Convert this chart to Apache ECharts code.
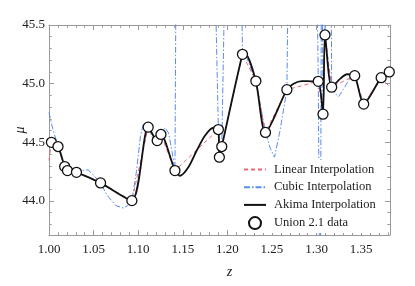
<!DOCTYPE html>
<html>
<head>
<meta charset="utf-8">
<script src="https://cdn.jsdelivr.net/npm/echarts@6/dist/echarts.min.js"></script>
<style>
  html, body { margin: 0; padding: 0; background: #fff; }
  #chart { width: 415px; height: 286px; }
</style>
</head>
<body>
<div id="chart"></div>
<script>
// Union 2.1 data points
const dataZ  = [1.0027, 1.0101, 1.0176, 1.0207, 1.0308, 1.0578, 1.0929, 1.1112, 1.1213, 1.1255, 1.1412, 1.1899, 1.1910, 1.1937, 1.2169, 1.2319, 1.2427, 1.2667, 1.3019, 1.3072, 1.3094, 1.3169, 1.3427, 1.3528, 1.3724, 1.3815];
const dataMu = [44.50, 44.464, 44.293, 44.259, 44.244, 44.154, 44.003, 44.629, 44.515, 44.567, 44.259, 44.609, 44.373, 44.464, 45.25, 45.022, 44.584, 44.949, 45.02, 44.74, 45.415, 44.97, 45.068, 44.826, 45.051, 45.10];

// linear interpolation (extends past the ends)
const linearZ  = [1.0, 1.0027, 1.0101, 1.0176, 1.0207, 1.0308, 1.0578, 1.0929, 1.1112, 1.1213, 1.1255, 1.1412, 1.1899, 1.1910, 1.1937, 1.2169, 1.2319, 1.2427, 1.2667, 1.3019, 1.3072, 1.3094, 1.3169, 1.3427, 1.3528, 1.3724, 1.3823];
const linearMu = [44.345, 44.50, 44.464, 44.293, 44.259, 44.244, 44.154, 44.003, 44.629, 44.515, 44.567, 44.259, 44.609, 44.373, 44.464, 45.25, 45.022, 44.584, 44.949, 45.02, 44.74, 45.415, 44.97, 45.068, 44.826, 45.051, 44.97];

// cubic spline (values outside the frame are clipped)
const cubicZ  = [1.0, 1.004, 1.0101, 1.0176, 1.0207, 1.0308, 1.037, 1.0438, 1.050, 1.0578, 1.065, 1.075, 1.0831, 1.088, 1.0929, 1.098, 1.1025, 1.1056, 1.108, 1.1112, 1.116, 1.1213, 1.1255, 1.130, 1.134, 1.138, 1.1412, 1.1428, 1.160, 1.1845, 1.1899, 1.1910, 1.1937, 1.1985, 1.206, 1.2150, 1.2169, 1.2199, 1.2319, 1.2427, 1.248, 1.2528, 1.259, 1.2667, 1.2690, 1.285, 1.2995, 1.3019, 1.3040, 1.3058, 1.3065, 1.3072, 1.3094, 1.3105, 1.313, 1.3160, 1.3169, 1.3215, 1.3247, 1.330, 1.3379, 1.3427, 1.3528, 1.3724, 1.3815, 1.3823];
const cubicMu = [44.755, 44.62, 44.464, 44.293, 44.259, 44.244, 44.26, 44.265, 44.22, 44.154, 44.05, 43.96, 43.94, 43.96, 44.003, 44.25, 44.55, 44.652, 44.66, 44.629, 44.54, 44.515, 44.567, 44.624, 44.58, 44.42, 44.259, 46.5, 49, 46.5, 44.609, 44.373, 44.464, 46.5, 48, 46.5, 45.25, 45.256, 45.022, 44.584, 44.45, 44.373, 44.6, 44.949, 46.5, 49, 46.5, 45.02, 42.5, 47, 47, 44.74, 45.415, 47, 48, 46.5, 44.97, 44.91, 44.89, 44.95, 45.056, 45.068, 44.826, 45.051, 45.10, 45.14];

// akima spline
const akimaZ  = [1.0, 1.0027, 1.0101, 1.0176, 1.0207, 1.0308, 1.0578, 1.0929, 1.1112, 1.1213, 1.1255, 1.1412, 1.147, 1.1562, 1.1656, 1.175, 1.1843, 1.1899, 1.1910, 1.1937, 1.2169, 1.2199, 1.2319, 1.2427, 1.2667, 1.2742, 1.2836, 1.2948, 1.3019, 1.3072, 1.3094, 1.3169, 1.3266, 1.3342, 1.3427, 1.3528, 1.3724, 1.3815, 1.3823];
const akimaMu = [44.49, 44.50, 44.464, 44.293, 44.259, 44.244, 44.154, 44.003, 44.629, 44.515, 44.567, 44.259, 44.215, 44.287, 44.43, 44.558, 44.624, 44.609, 44.373, 44.464, 45.25, 45.256, 45.022, 44.584, 44.949, 45.0, 45.022, 45.02, 45.02, 44.74, 45.415, 44.97, 45.043, 45.08, 45.068, 44.826, 45.051, 45.10, 45.11];

// axis ticks
const xMajor = [1.00, 1.05, 1.10, 1.15, 1.20, 1.25, 1.30, 1.35];
const yMajor = [44.0, 44.5, 45.0, 45.5];
const xRange = [1.0, 1.3823];
const yRange = [43.71, 45.5];

const xMinor = [];
for (let v = 1.0; v <= xRange[1]; v += 0.01) {
    const r = Math.round(v * 100) / 100;
    if (!xMajor.some(m => Math.abs(m - r) < 1e-6)) xMinor.push(r);
}
const yMinor = [];
for (let v = 43.8; v <= yRange[1]; v += 0.1) {
    const r = Math.round(v * 10) / 10;
    if (!yMajor.some(m => Math.abs(m - r) < 1e-6)) yMinor.push(r);
}

const zip = (a, b) => a.map((v, i) => [v, b[i]]);

const FONT = 'Liberation Serif';
const frameColor = '#9a9a9a';
const textColor = '#222';

function xAxisDef(position, ticks, len, showLine, showLabel) {
    return {
        type: 'value',
        position: position,
        min: xRange[0],
        max: xRange[1],
        axisLine: { show: showLine, onZero: false, lineStyle: { color: frameColor, width: 1 } },
        axisTick: { show: true, inside: true, length: len, customValues: ticks, lineStyle: { color: frameColor } },
        axisLabel: {
            show: showLabel,
            customValues: ticks,
            margin: 8,
            fontFamily: FONT,
            fontSize: 13,
            color: textColor,
            formatter: v => v.toFixed(2)
        },
        splitLine: { show: false }
    };
}

function yAxisDef(position, ticks, len, showLine, showLabel) {
    return {
        type: 'value',
        position: position,
        min: yRange[0],
        max: yRange[1],
        axisLine: { show: showLine, onZero: false, lineStyle: { color: frameColor, width: 1 } },
        axisTick: { show: true, inside: true, length: len, customValues: ticks, lineStyle: { color: frameColor } },
        axisLabel: {
            show: showLabel,
            customValues: ticks,
            margin: 4,
            fontFamily: FONT,
            fontSize: 13,
            color: textColor,
            formatter: v => v.toFixed(1)
        },
        splitLine: { show: false }
    };
}

const xMain = xAxisDef('bottom', xMajor, 5, true, true);
xMain.name = 'z';
xMain.nameLocation = 'middle';
xMain.nameGap = 30;
xMain.nameMoveOverlap = false;
xMain.nameTextStyle = { fontFamily: FONT, fontStyle: 'italic', fontSize: 14, color: textColor, padding: [0, 0, 0, 20] };

const yMain = yAxisDef('left', yMajor, 5, true, true);
yMain.name = 'μ';
yMain.nameLocation = 'middle';
yMain.nameGap = 22;
yMain.nameRotate = 90;
yMain.nameMoveOverlap = false;
yMain.nameTextStyle = { fontFamily: FONT, fontStyle: 'italic', fontSize: 14, color: textColor };

// line legend entries: hide the symbol ECharts puts in the middle of the line
const noMarker = { opacity: 0 };

const chart = echarts.init(document.getElementById('chart'), null, { renderer: 'canvas' });

const option = {
    animation: false,
    backgroundColor: '#fff',
    grid: { left: 49, top: 25, width: 341, height: 210, containLabel: false, outerBoundsMode: 'none' },
    xAxis: [
        xMain,
        xAxisDef('bottom', xMinor, 2.7, false, false),
        xAxisDef('top', xMajor, 5, true, false),
        xAxisDef('top', xMinor, 2.7, false, false)
    ],
    yAxis: [
        yMain,
        yAxisDef('left', yMinor, 2.7, false, false),
        yAxisDef('right', yMajor, 5, true, false),
        yAxisDef('right', yMinor, 2.7, false, false)
    ],
    legend: {
        orient: 'vertical',
        left: 238,
        top: 160,
        padding: [3, 5],
        itemWidth: 22,
        itemHeight: 12,
        itemGap: 4.7,
        backgroundColor: '#fff',
        textStyle: { fontFamily: FONT, fontSize: 12.5, color: textColor, padding: [0, 0, 0, 3] },
        data: [
            { name: 'Linear Interpolation', itemStyle: noMarker },
            { name: 'Cubic Interpolation', itemStyle: noMarker },
            { name: 'Akima Interpolation', itemStyle: noMarker },
            { name: 'Union 2.1 data', icon: 'circle' }
        ]
    },
    series: [
        {
            name: 'Cubic Interpolation',
            type: 'line',
            data: zip(cubicZ, cubicMu),
            symbol: 'none',
            clip: true,
            lineStyle: { color: 'rgb(88,140,236)', width: 1, type: [6, 2, 1.5, 2] },
            itemStyle: { color: 'rgb(88,140,236)' },
            z: 2
        },
        {
            name: 'Linear Interpolation',
            type: 'line',
            data: zip(linearZ, linearMu),
            symbol: 'none',
            clip: true,
            lineStyle: { color: 'rgb(236,104,116)', width: 1, type: [4, 3] },
            itemStyle: { color: 'rgb(236,104,116)' },
            z: 3
        },
        {
            name: 'Akima Interpolation',
            type: 'line',
            data: zip(akimaZ, akimaMu),
            symbol: 'none',
            smooth: 0.25,
            clip: true,
            lineStyle: { color: '#111', width: 1.8 },
            itemStyle: { color: '#111' },
            z: 4
        },
        {
            name: 'Union 2.1 data',
            type: 'scatter',
            data: zip(dataZ, dataMu),
            symbol: 'circle',
            symbolSize: 10,
            itemStyle: { color: '#fff', borderColor: '#111', borderWidth: 1.3, opacity: 1 },
            z: 5
        }
    ]
};

chart.setOption(option);
</script>
</body>
</html>
